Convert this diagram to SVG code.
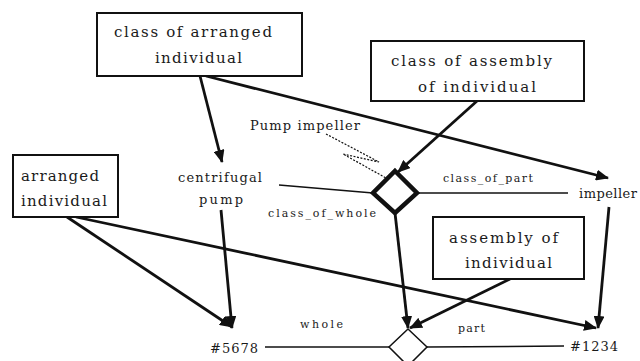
<svg xmlns="http://www.w3.org/2000/svg" width="640" height="361" viewBox="0 0 640 361">
<style>
text{font-family:'DejaVu Serif','Liberation Serif',serif;fill:#1a1a1a}
.b{font-size:15px}
.m{font-size:13px}
.s{font-size:11px}
.box{fill:#fff;stroke:#111;stroke-width:2}
.c{stroke:#111;stroke-width:2.8;fill:none;marker-end:url(#ah)}
.t{stroke:#111;stroke-width:1.5;fill:none}
</style>
<defs>
<marker id="ah" markerUnits="userSpaceOnUse" markerWidth="13" markerHeight="11" refX="12" refY="5.5" orient="auto">
<path d="M0,0 L13,5.5 L0,11 z" fill="#111"/>
</marker>
</defs>
<rect width="640" height="361" fill="#fff"/>
<g id="connectors">
<line class="c" x1="200" y1="76" x2="222" y2="162"/>
<line class="c" x1="206" y1="76" x2="608" y2="178"/>
<line class="c" x1="477" y1="101" x2="398" y2="172"/>
<line class="c" x1="67" y1="217" x2="232" y2="327"/>
<line class="c" x1="76" y1="217" x2="596" y2="328"/>
<line class="c" x1="221" y1="210" x2="232" y2="328"/>
<line class="c" x1="395" y1="213" x2="408" y2="328"/>
<line class="c" x1="510" y1="279" x2="410" y2="328"/>
<line class="c" x1="609" y1="207" x2="598" y2="328"/>
<line class="t" x1="279" y1="185" x2="373" y2="193"/>
<line class="t" x1="417" y1="193" x2="568" y2="193"/>
<line class="t" x1="265" y1="347" x2="389" y2="347"/>
<line class="t" x1="427" y1="347" x2="564" y2="346"/>
<polyline points="326,134 379,162 343,154 386,178" fill="none" stroke="#111" stroke-width="1.2" stroke-dasharray="2,1.5"/>
</g>
<g id="n-class-arranged">
<rect class="box" x="97" y="13" width="205" height="63"/>
<text class="b" x="114" y="37" textLength="158" lengthAdjust="spacing">class of arranged</text>
<text class="b" x="155" y="63" textLength="87" lengthAdjust="spacing">individual</text>
</g>
<g id="n-class-assembly">
<rect class="box" x="371" y="41" width="213" height="60"/>
<text class="b" x="391" y="66" textLength="161" lengthAdjust="spacing">class of assembly</text>
<text class="b" x="418" y="92" textLength="118" lengthAdjust="spacing">of individual</text>
</g>
<g id="n-arranged">
<rect class="box" x="13" y="155" width="105" height="62"/>
<text class="b" x="21" y="181" textLength="78" lengthAdjust="spacing">arranged</text>
<text class="b" x="21" y="206" textLength="86" lengthAdjust="spacing">individual</text>
</g>
<g id="n-assembly">
<rect class="box" x="433" y="217" width="151" height="62"/>
<text class="b" x="449" y="243" textLength="109" lengthAdjust="spacing">assembly of</text>
<text class="b" x="465" y="268" textLength="87" lengthAdjust="spacing">individual</text>
</g>
<g id="n-centrifugal">
<text class="m" x="178" y="182" textLength="84" lengthAdjust="spacing">centrifugal</text>
<text class="m" x="199" y="204" textLength="44" lengthAdjust="spacing">pump</text>
</g>
<g id="n-impeller">
<text class="m" x="579" y="198" textLength="58" lengthAdjust="spacing">impeller</text>
</g>
<g id="n-pump-impeller">
<text class="m" x="250" y="130" textLength="110" lengthAdjust="spacing">Pump impeller</text>
</g>
<g id="n-class-diamond">
<polygon points="395,171 417,193 395,213 373,193" fill="#fff" stroke="#111" stroke-width="4.5" stroke-linejoin="miter"/>
<text class="s" x="268" y="217" textLength="108" lengthAdjust="spacing">class_of_whole</text>
<text class="s" x="443" y="182" textLength="90" lengthAdjust="spacing">class_of_part</text>
</g>
<g id="n-diamond">
<polygon points="408,329 427,347 408,366 389,347" fill="#fff" stroke="#111" stroke-width="1.5"/>
<text class="s" x="300" y="328" textLength="43" lengthAdjust="spacing">whole</text>
<text class="s" x="458" y="332" textLength="27" lengthAdjust="spacing">part</text>
</g>
<g id="n-5678">
<text class="m" x="210" y="353" textLength="48" lengthAdjust="spacing">#5678</text>
</g>
<g id="n-1234">
<text class="m" x="570" y="351" textLength="48" lengthAdjust="spacing">#1234</text>
</g>
</svg>
